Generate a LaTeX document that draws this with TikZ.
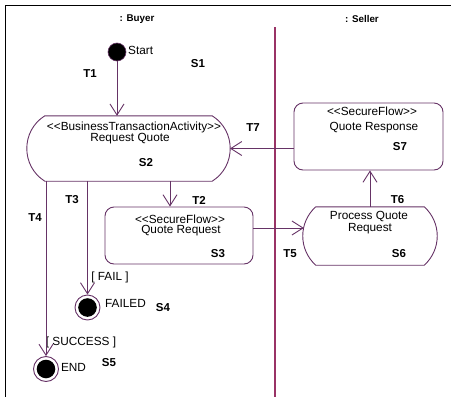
\documentclass[tikz,border=0pt]{standalone}
\usepackage{fontspec}
\setmainfont{Liberation Sans}[Ligatures=TeXOff]
\usetikzlibrary{arrows.meta}
\definecolor{linec}{HTML}{663366}
\definecolor{lanec}{HTML}{993366}
\begin{document}
\begin{tikzpicture}[x=1pt,y=-1pt,
  every node/.style={font=\fontsize{11.8}{13}\selectfont, inner sep=0pt},
  lbl/.style={font=\fontsize{11.5}{13}\selectfont\bfseries},
  hdr/.style={font=\fontsize{9.8}{11}\selectfont\bfseries},
  conn/.style={draw=linec, line width=0.9pt, -{Straight Barb[length=11pt,width=14pt]}},
  plain/.style={draw=linec, line width=0.9pt},
  box/.style={draw=linec, line width=0.9pt, rounded corners=9pt},
  finalst/.style={circle, draw=linec, line width=0.9pt, minimum size=25pt},
  initst/.style={circle, fill=black, draw=linec, line width=0.6pt, minimum size=18pt}]
\useasboundingbox (0,0) rectangle (451,397);
% frame and lanes
\draw[line width=0.9pt] (5.5,397) -- (5.5,5.5) -- (451,5.5);
\node[hdr] (buyer) at (137,19) {: Buyer};
\node[hdr] (seller) at (362,19) {: Seller};
\coordinate (laneTop) at (275,27);
\coordinate (laneBot) at (275,397);
\draw[draw=lanec, line width=1.2pt] (laneTop) -- (laneBot);

% start
\node[initst] (start) at (117,52) {};
\node[anchor=west] (starttxt) at (128,50) {Start};
\node[lbl] (s1) at (198,64) {S1};
\node[lbl] (t1) at (90,74) {T1};

% S2
\node[minimum width=167pt, minimum height=65pt] (s2) at (128.5,148.5) {};
\draw[plain] (s2.north west) -- (s2.north east)
  .. controls +(24,15) and +(24,-15) .. (s2.south east)
  -- (s2.south west)
  .. controls +(-24,-15) and +(-24,15) .. (s2.north west);
\coordinate (s2r) at (230,148.5);
\node (s2a) at (134,127) {<<BusinessTransactionActivity>>};
\node (s2b) at (130,139) {Request Quote};
\node[lbl] (s2l) at (146,163) {S2};

% S3
\node[box, minimum width=148pt, minimum height=57pt] (s3) at (179,235.5) {};
\node (s3a) at (180,219) {<<SecureFlow>>};
\node (s3b) at (181,231) {Quote Request};
\node[lbl] (s3l) at (218,254) {S3};

% S7
\node[box, minimum width=149pt, minimum height=67pt] (s7) at (368.5,136.5) {};
\node (s7a) at (372,111) {<<SecureFlow>>};
\node (s7b) at (374,128) {Quote Response};
\node[lbl] (s7l) at (400,147) {S7};

% S6
\node[minimum width=108pt, minimum height=58pt] (s6) at (370,236) {};
\draw[plain] (s6.north west) -- (s6.north east)
  .. controls +(17.4,15.5) and +(17.4,-15.5) .. (s6.south east)
  -- (s6.south west)
  .. controls +(-17.4,-15.5) and +(-17.4,15.5) .. (s6.north west);
\coordinate (s6l) at (303.8,228);
\node (s6a) at (369,216) {Process Quote};
\node (s6b) at (370,228.5) {Request};
\node[lbl] (s6l2) at (399,254) {S6};

% finals
\node[finalst] (failed) at (87.5,307.5) {};
\fill (failed.center) circle (9.3pt);
\node[finalst] (end) at (46,369) {};
\fill (end.center) circle (9.3pt);
\node (failtxt) at (125.5,303) {FAILED};
\node[lbl] (s4) at (163,308) {S4};
\node (endtxt) at (73.5,367) {END};
\node[lbl] (s5) at (109,363) {S5};
\node (failg) at (110,277) {[ FAIL ]};
\node (succg) at (81,342) {[ SUCCESS ]};

% transition labels
\node[lbl] (t2) at (199,200) {T2};
\node[lbl] (t3) at (72,200) {T3};
\node[lbl] (t4) at (35,218) {T4};
\node[lbl] (t5) at (290,254) {T5};
\node[lbl] (t6) at (397.5,200) {T6};
\node[lbl] (t7) at (253,128) {T7};

% connectors
\draw[conn] (start) -- (start |- s2.north);
\coordinate (t2x) at (170,0);
\draw[conn] (s2.south -| t2x) -- (s3.north -| t2x);
\draw[conn] (s2.south -| failed) -- (failed);
\draw[conn] (s2.south -| end) -- (end);
\draw[conn] (s6l -| s3.east) -- (s6l);
\draw[conn] (s6.north) -- (s6.north |- s7.south);
\draw[conn] (s2r -| s7.west) -- (s2r);
\end{tikzpicture}
\end{document}
